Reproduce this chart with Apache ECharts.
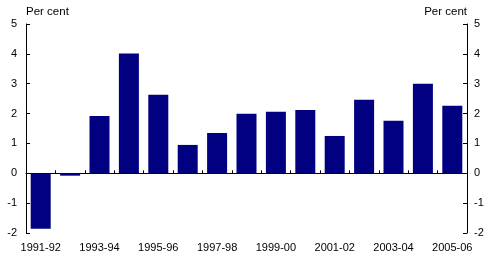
<!DOCTYPE html>
<html>
<head>
<meta charset="utf-8">
<script src="https://cdn.jsdelivr.net/npm/echarts@6/dist/echarts.min.js"></script>
<style>html,body{margin:0;padding:0;background:#fff}#c{width:492px;height:265px}</style>
</head>
<body>
<div id="c"></div>
<script>
var categories = ['1991-92','1992-93','1993-94','1994-95','1995-96','1996-97','1997-98','1998-99','1999-00','2000-01','2001-02','2002-03','2003-04','2004-05','2005-06'];
var values = [-1.86, -0.08, 1.92, 4.01, 2.63, 0.95, 1.35, 1.99, 2.06, 2.12, 1.25, 2.46, 1.76, 3.0, 2.26];
var yTicks = [-2, -1, 0, 1, 2, 3, 4, 5];
var unitLabel = 'Per cent';

var font = 'Liberation Sans, Arial, sans-serif';
var chart = echarts.init(document.getElementById('c'), null, {renderer: 'canvas'});
function yAxis(pos) {
  return {
    type: 'value', position: pos, min: yTicks[0], max: yTicks[yTicks.length - 1], interval: 1,
    name: unitLabel, nameLocation: 'end', nameGap: 6,
    nameTextStyle: {color: '#000', fontFamily: font, fontSize: 11.5, align: pos === 'left' ? 'left' : 'right', padding: 0},
    axisLine: {show: true, onZero: false, lineStyle: {color: '#000', width: 1}},
    axisTick: {show: true, inside: true, length: 4, lineStyle: {color: '#000'}},
    axisLabel: {color: '#000', fontFamily: font, fontSize: 11, margin: pos === 'left' ? 9 : 7},
    splitLine: {show: false}
  };
}
chart.setOption({
  animation: false,
  grid: {left: 26, right: 25, top: 24, bottom: 32, containLabel: false},
  xAxis: [{
    type: 'category', data: categories, boundaryGap: true,
    axisLine: {show: true, onZero: true, lineStyle: {color: '#000', width: 1}},
    axisTick: {show: true, inside: true, length: 3, alignWithLabel: false, interval: 0, lineStyle: {color: '#000'}},
    axisLabel: {show: false}
  }, {
    type: 'category', data: categories, boundaryGap: true, position: 'bottom',
    axisLine: {show: false, onZero: false}, axisTick: {show: false},
    axisLabel: {show: true, interval: 1, color: '#000', fontFamily: font, fontSize: 11, margin: 9}
  }],
  yAxis: [yAxis('left'), yAxis('right')],
  series: [{
    type: 'bar', data: values, xAxisIndex: 0, yAxisIndex: 0,
    barWidth: 20, itemStyle: {color: '#000080'}
  }]
});
</script>
</body>
</html>
